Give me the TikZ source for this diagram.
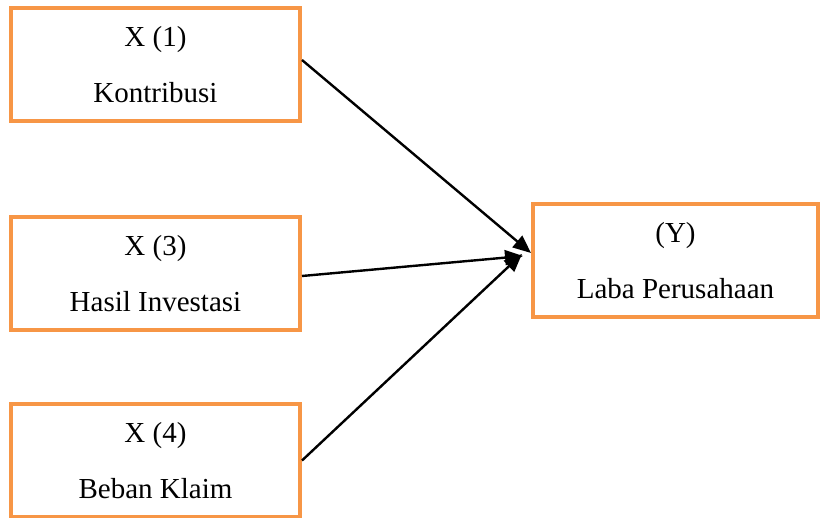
\documentclass[tikz,border=0pt]{standalone}
\usepackage{fontspec}
\setmainfont{Liberation Serif}
\usetikzlibrary{arrows.meta}
\definecolor{boxorange}{HTML}{F79646}
\tikzset{
	varbox/.style={draw=boxorange, line width=4pt, fill=white, align=center,
		minimum width=289pt, minimum height=113pt, inner sep=0pt,
		font=\fontsize{29}{56}\selectfont},
	link/.style={line width=2.4pt, -{Triangle[length=18pt,width=15pt]}}
}

\begin{document}
\begin{tikzpicture}[x=1pt,y=1pt]
					\useasboundingbox (0,0) rectangle (822,-518);
					\foreach \i/\yy/\txt in {1/-65/{X (1)\\Kontribusi},3/-274/{X (3)\\Hasil Investasi},4/-460.5/{X (4)\\Beban Klaim}}{
						\node [varbox] (x\i) at (155.5,\yy) {\txt};
					}
					\node [varbox, minimum width=285pt] (laba) at (675.5,-261) {(Y)\\Laba Perusahaan};
					\draw [link] ([yshift=5pt]x1.east) -- ([yshift=8pt]laba.west);
					\draw [link] ([yshift=-2pt]x3.east) -- ([xshift=-8pt,yshift=5pt]laba.west);
					\draw [link] (x4.east) -- ([xshift=-9pt,yshift=7pt]laba.west);
				\end{tikzpicture}
\end{document}
